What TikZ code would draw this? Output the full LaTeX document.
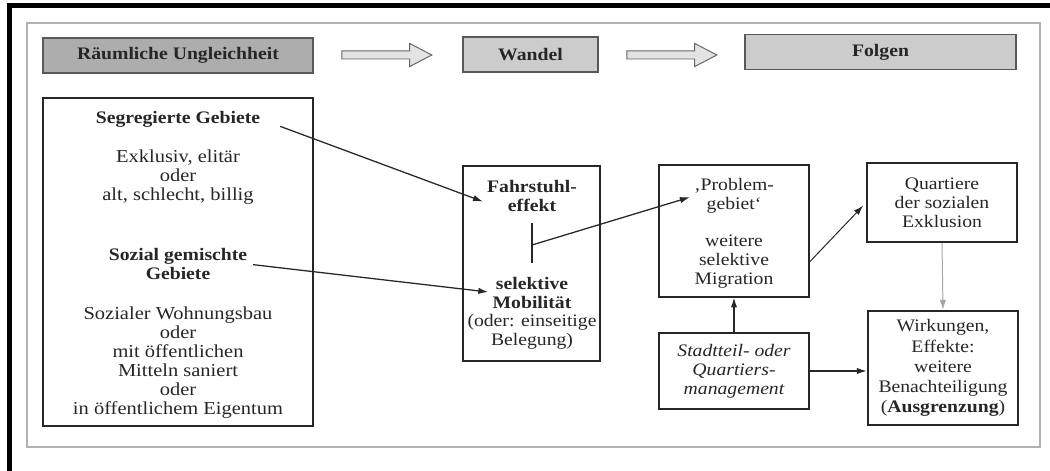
\documentclass[tikz,border=0pt]{standalone}
\usepackage{fontspec}
\setmainfont{Liberation Serif}[FakeStretch=1.12]
\usepackage{tikz}
\usetikzlibrary{arrows.meta, shapes.arrows}

\begin{document}
\begin{tikzpicture}[x=0.025cm, y=-0.025cm, >={Latex[length=7pt, width=4.5pt]},
    every node/.style={align=center, inner sep=0pt, text=ink, font=\fontsize{12.5pt}{13.5pt}\selectfont},
    gross/.style={font=\fontsize{13pt}{13.5pt}\selectfont},
    kopf/.style={draw=kopfrand, line width=1.4pt, minimum height=0.875cm},
    kasten/.style={draw=ink, line width=0.8pt},
    dickkasten/.style={draw=ink, line width=1.8pt},
    blockpfeil/.style={single arrow, draw=black!60, fill=gray!22, line width=0.7pt, inner sep=2.5pt,
      minimum height=2.25cm, single arrow head extend=0.19cm, single arrow tip angle=55},
    pfeil/.style={->, line width=0.9pt, draw=ink}]
      \colorlet{ink}{black!85} \colorlet{kopfrand}{black!65}
      \colorlet{kopfdunkel}{black!32} \colorlet{kopfhell}{black!20}

      \useasboundingbox (0,0) rectangle (1050,471);
      \draw[line width=3pt] (9.5,471) -- (9.5,5.5) -- (1050,5.5);
      \draw[gray!60, line width=0.9pt] (27,23) rectangle (1040,447);

      \node[kopf, fill=kopfdunkel, minimum width=6.75cm] (ungleich) at (178,55.5) {\bfseries Räumliche Ungleichheit};
      \node[kopf, fill=kopfhell, minimum width=3.375cm] (wandel) at (530.5,54.5) {\bfseries Wandel};
      \node[kopf, fill=kopfhell, minimum width=6.775cm] (folgen) at (880.5,52) {\bfseries Folgen};
      \node[blockpfeil] (pfeilA) at (383,55) {};
      \node[blockpfeil] (pfeilB) at (668,55) {};

      \node[dickkasten, minimum width=6.75cm, minimum height=8.2cm] (links) at (178,262) {};
      \node (segr) at (178,119) {\bfseries Segregierte Gebiete};
      \node[gross] (segtxt) at (178,177.5) {Exklusiv, elitär\\oder\\alt, schlecht, billig};
      \node (misch) at (178,264) {\bfseries Sozial gemischte\\\bfseries Gebiete};
      \node[gross] (mischtxt) at (178,362.5) {Sozialer Wohnungsbau\\oder\\mit öffentlichen\\Mitteln saniert\\oder\\in öffentlichem Eigentum};

      \node[dickkasten, minimum width=3.425cm, minimum height=4.875cm] (fahrkasten) at (531.5,263.5) {};
      \node (fahr) at (532,196) {\bfseries Fahrstuhl-\\\bfseries effekt};
      \node (mob) at (532,292.5) {\bfseries selektive\\\bfseries Mobilität};
      \node (beleg) at (532,332) {(oder: einseitige\\Belegung)};
      \coordinate (strichoben) at (532,223);
      \coordinate (strichunten) at (532,263);
      \coordinate (stoss) at (532,245);

      \node[kasten, minimum width=3.75cm, minimum height=3.3cm] (probkasten) at (734,231) {};
      \node (prob) at (734,196) {‚Problem-\\gebiet‘};
      \node (migr) at (734,262) {weitere\\selektive\\Migration};
      \node[kasten, minimum width=3.75cm, minimum height=1.9cm] (stadt) at (734,371) {\itshape Stadtteil- oder\\\itshape Quartiers-\\\itshape management};

      \node[kasten, line width=1.2pt, minimum width=3.75cm, minimum height=1.975cm] (quart) at (942,202.5) {Quartiere\\der sozialen\\Exklusion};
      \node[dickkasten, minimum width=3.75cm, minimum height=2.85cm, font=\fontsize{12.5pt}{14.3pt}\selectfont] (wirk) at (943,368) {Wirkungen,\\Effekte:\\weitere\\Benachteiligung\\(\textbf{Ausgrenzung})};

      \draw[pfeil, shorten <=15pt, shorten >=3pt] (segr.east) -- ([yshift=-5pt]fahr.west);
      \draw[pfeil, shorten <=4pt, shorten >=3pt] (misch.east) -- (mob.west);
      \draw[line width=0.9pt, ink] (strichoben) -- (strichunten);
      \draw[pfeil, shorten >=3pt] (stoss) -- (prob.west);
      \draw[pfeil, line width=0.7pt, shorten >=3pt] (migr -| probkasten.east) -- (quart.west);
      \draw[pfeil] (stadt.north) -- (probkasten.south);
      \draw[pfeil] (stadt.east) -- (stadt.east -| wirk.west);
      \draw[pfeil, draw=gray!70, line width=0.7pt] (quart.south) -- (wirk.north);
    \end{tikzpicture}
\end{document}
